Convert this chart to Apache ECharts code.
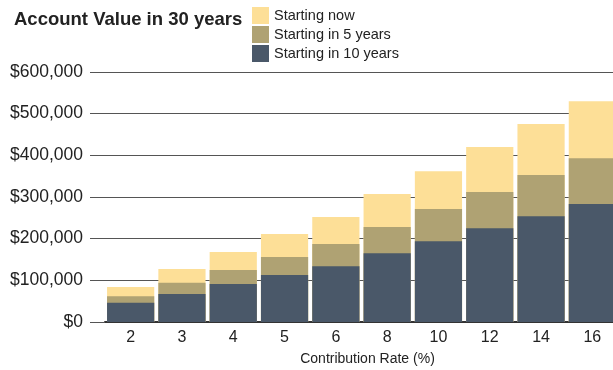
<!DOCTYPE html>
<html>
<head>
<meta charset="utf-8">
<script src="https://cdn.jsdelivr.net/npm/echarts@6/dist/echarts.min.js"></script>
<style>
  html, body { margin: 0; padding: 0; background: #fff; }
  #chart { width: 613px; height: 370px; }
</style>
</head>
<body>
<div id="chart"></div>
<script>
// contribution rates (%)
var rates = ['2', '3', '4', '5', '6', '8', '10', '12', '14', '16'];
// account value after 30 years
var startNow = [84000, 127000, 168000, 211000, 252000, 307000, 362000, 420000, 475000, 530000];
var startIn5 = [62000, 94000, 125000, 156000, 187000, 228000, 271000, 312000, 353000, 393000];
var startIn10 = [46000, 67000, 91000, 113000, 134000, 165000, 194000, 225000, 254000, 283000];

var font = "'Liberation Sans', Arial, Helvetica, sans-serif";

function money(v) {
    return '$' + String(v).replace(/\B(?=(\d{3})+(?!\d))/g, ',');
}

var chart = echarts.init(document.getElementById('chart'));
var option = {
    animation: false,
    color: ['#FDDF97', '#AFA273', '#4A5869'],
    title: {
        text: 'Account Value in 30 years',
        left: 9,
        top: 5,
        textStyle: {
            fontFamily: font,
            fontSize: 18.5,
            fontWeight: 'bold',
            color: '#222'
        }
    },
    legend: {
        orient: 'vertical',
        left: 252,
        top: 7,
        padding: 0,
        itemWidth: 17,
        itemHeight: 17,
        itemGap: 2,
        icon: 'rect',
        data: ['Starting now', 'Starting in 5 years', 'Starting in 10 years'],
        textStyle: {
            fontFamily: font,
            fontSize: 14.5,
            color: '#222'
        }
    },
    grid: {
        left: 105,
        right: -5,
        top: 72,
        bottom: 48,
        containLabel: false,
        outerBoundsMode: 'none'
    },
    xAxis: {
        type: 'category',
        data: rates,
        name: 'Contribution Rate (%)',
        nameLocation: 'middle',
        nameGap: 30,
        nameTextStyle: {
            fontFamily: font,
            fontSize: 14,
            color: '#222',
            padding: [0, 0, 0, 12]
        },
        axisTick: { show: false },
        axisLine: {
            lineStyle: { color: '#333', width: 2 }
        },
        axisLabel: {
            margin: 8,
            fontFamily: font,
            fontSize: 16,
            color: '#222'
        }
    },
    yAxis: {
        type: 'value',
        min: 0,
        max: 600000,
        interval: 100000,
        axisLine: { show: false },
        axisTick: {
            show: true,
            length: 15,
            lineStyle: { color: '#555', width: 1 }
        },
        splitLine: {
            lineStyle: { color: '#555', width: 1 }
        },
        axisLabel: {
            margin: 22,
            fontFamily: font,
            fontSize: 17.5,
            color: '#222',
            formatter: money
        }
    },
    series: [
        {
            name: 'Starting now',
            type: 'bar',
            barCategoryGap: '8%',
            barGap: '-100%',
            data: startNow
        },
        {
            name: 'Starting in 5 years',
            type: 'bar',
            barCategoryGap: '8%',
            barGap: '-100%',
            data: startIn5
        },
        {
            name: 'Starting in 10 years',
            type: 'bar',
            barCategoryGap: '8%',
            barGap: '-100%',
            data: startIn10
        }
    ]
};
chart.setOption(option);
</script>
</body>
</html>
